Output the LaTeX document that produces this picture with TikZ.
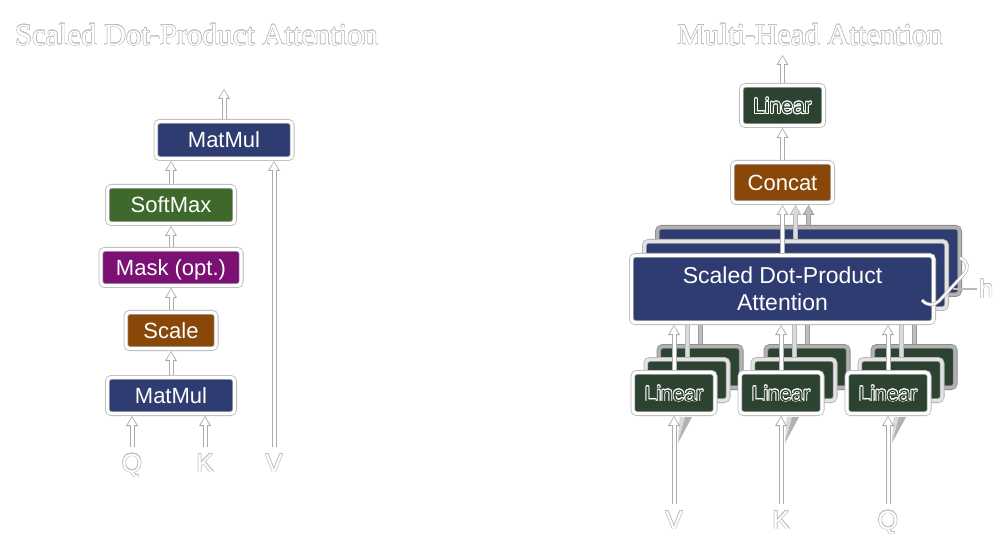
\documentclass[tikz,border=0pt]{standalone}
\usepackage{fontspec}
\setmainfont{Liberation Sans}
\newfontfamily\serifttl{Liberation Serif}
\usepackage{contour}
\usetikzlibrary{arrows.meta}

\definecolor{navybox}{RGB}{46,60,114}
\definecolor{leafbox}{RGB}{62,105,42}
\definecolor{plumbox}{RGB}{122,17,115}
\definecolor{rustbox}{RGB}{137,72,10}
\definecolor{pinebox}{RGB}{45,67,50}

% text drawn as a thin outline
\newcommand\ghost[1]{{\color{white}\contourlength{0.45pt}\contour{gray!50}{#1}}}
\newcommand\lintext{{\color{pinebox}\contourlength{0.8pt}\contour{white}{Linear}}}
\newcommand\boxfont{\fontsize{22pt}{26pt}\selectfont}
\newcommand\linfont{\fontsize{21pt}{25pt}\selectfont}
\newcommand\sdpafont{\fontsize{23pt}{27pt}\selectfont}
\newcommand\ttlfont{\serifttl\fontsize{30.5pt}{32pt}\selectfont}
\newcommand\lblfont{\fontsize{26pt}{28pt}\selectfont}

\pgfdeclarelayer{paper}
\pgfdeclarelayer{stackC}
\pgfdeclarelayer{arrowsC}
\pgfdeclarelayer{stackB}
\pgfdeclarelayer{arrowsB}
\pgfsetlayers{paper,stackC,arrowsC,stackB,arrowsB,main}

\tikzset{
  box/.style={rounded corners=4pt, draw=gray!55, double=white, double distance=3pt,
    line width=0.8pt, inner sep=0pt, outer sep=2.3pt, text=white, font=\boxfont},
  capc/.style={text height=16pt, text depth=0pt},
  stackB/.style={rounded corners=4pt, draw=gray!60, double=gray!22, double distance=3pt,
    line width=0.8pt, inner sep=0pt, outer sep=2.3pt},
  stackC/.style={rounded corners=4pt, draw=gray!90, double=gray!60, double distance=3pt,
    line width=0.8pt, inner sep=0pt, outer sep=2.3pt},
  linsize/.style={minimum width=82.4pt, minimum height=41.4pt},
  sdpasize/.style={minimum width=302.4pt, minimum height=67.4pt},
  blockarrow/.style 2 args={line width=5pt, draw=#1,
    -{Triangle[length=10pt,width=12pt,line width=0pt]},
    postaction={draw=#2, line width=3pt,
      -{Triangle[length=7.6pt,width=8.4pt,line width=0pt]}, shorten >=1.3pt}},
  conn/.style={blockarrow={gray!65}{white}},
  connB/.style={blockarrow={gray!55}{gray!28}},
  connC/.style={blockarrow={gray!78}{gray!52}},
  lbl/.style={inner sep=0pt, outer sep=6pt, anchor=north, text height=19pt,
    text depth=0pt, font=\lblfont},
  braceline/.style={draw=gray!60, double=white, double distance=2pt, line width=0.7pt},
}

\begin{document}
\begin{tikzpicture}[x=1pt,y=-1pt]
\begin{pgfonlayer}{paper}
\fill[white] (0,0) rectangle (1002,548);
\end{pgfonlayer}
\useasboundingbox (0,0) rectangle (1002,548);

% ---------------- titles
\node[font=\ttlfont] (ttlL) at (196.5,35) {\ghost{Scaled Dot-Product Attention}};
\node[font=\ttlfont] (ttlR) at (810,35) {\ghost{Multi-Head Attention}};

% ---------------- scaled dot-product attention
\node[box, capc, fill=navybox, minimum width=136.4pt, minimum height=37.4pt] (mmB) at (224,140) {MatMul};
\node[box, capc, fill=leafbox, minimum width=127.4pt, minimum height=37.4pt] (soft) at (171,205) {SoftMax};
\node[box, capc, fill=plumbox, minimum width=140.4pt, minimum height=36.4pt] (mask) at (171,267.5) {Mask (opt.)};
\node[box, capc, fill=rustbox, minimum width=90.4pt, minimum height=36.4pt] (scale) at (171,330.5) {Scale};
\node[box, capc, fill=navybox, minimum width=127.4pt, minimum height=36.4pt] (mmA) at (171,395.5) {MatMul};

\node[lbl] (q) at (132,447) {\ghost{Q}};
\node[lbl] (k) at (205,447) {\ghost{K}};
\node[lbl] (v) at (274,447) {\ghost{V}};

\coordinate (topL) at (224,89);
\draw[conn] (mmB.north) -- (topL);
\draw[conn] (soft.north) -- (soft.north |- mmB.south);
\draw[conn] (mask.north) -- (mask.north |- soft.south);
\draw[conn] (scale.north) -- (scale.north |- mask.south);
\draw[conn] (mmA.north) -- (mmA.north |- scale.south);
\draw[conn] (q.north) -- (q.north |- mmA.south);
\draw[conn] (k.north) -- (k.north |- mmA.south);
\draw[conn] (v.north) -- (v.north |- mmB.south);

% ---------------- multi-head attention: front layer
\node[box, capc, fill=pinebox, font=\linfont, minimum width=82.4pt, minimum height=40.4pt] (linO) at (782.5,105.5) {\lintext};
\node[box, capc, fill=rustbox, minimum width=100.4pt, minimum height=40.4pt] (cat) at (782.5,182.5) {Concat};
\node[box, sdpasize, fill=navybox, align=center, font=\sdpafont] (sdpa) at (782.5,289) {Scaled Dot-Product\\Attention};
\node[box, capc, linsize, fill=pinebox, font=\linfont] (linV) at (674,393) {\lintext};
\node[box, capc, linsize, fill=pinebox, font=\linfont] (linK) at (781,393) {\lintext};
\node[box, capc, linsize, fill=pinebox, font=\linfont] (linQ) at (888,393) {\lintext};

% ---------------- third layer (furthest back)
\begin{pgfonlayer}{stackC}
\node[stackC, sdpasize, fill=navybox] (sdpaC) at (808.5,261) {};
\node[stackC, linsize, fill=pinebox] (linVC) at (700,367) {};
\node[stackC, linsize, fill=pinebox] (linKC) at (807,367) {};
\node[stackC, linsize, fill=pinebox] (linQC) at (914,367) {};
\end{pgfonlayer}
\begin{pgfonlayer}{arrowsC}
\draw[connC] (sdpaC.north) -- (sdpaC.north |- cat.south);
\draw[connC] (linVC.north) -- (linVC.north |- sdpaC.south);
\draw[connC] (linKC.north) -- (linKC.north |- sdpaC.south);
\draw[connC] (linQC.north) -- (linQC.north |- sdpaC.south);
\end{pgfonlayer}

% ---------------- second layer
\begin{pgfonlayer}{stackB}
\node[stackB, sdpasize, fill=navybox] (sdpaB) at (795.5,275) {};
\node[stackB, linsize, fill=pinebox] (linVB) at (687,380) {};
\node[stackB, linsize, fill=pinebox] (linKB) at (794,380) {};
\node[stackB, linsize, fill=pinebox] (linQB) at (901,380) {};
\end{pgfonlayer}
\begin{pgfonlayer}{arrowsB}
\draw[connB] (sdpaB.north) -- (sdpaB.north |- cat.south);
\draw[connB] (linVB.north) -- (linVB.north |- sdpaB.south);
\draw[connB] (linKB.north) -- (linKB.north |- sdpaB.south);
\draw[connB] (linQB.north) -- (linQB.north |- sdpaB.south);
\end{pgfonlayer}

% slanted input arrows of the back layers, seen from below
\foreach \x in {674,781,888} {
  \fill[gray!60] (\x+6,417) -- (\x+18,417) -- (\x+4,443) -- cycle;
  \fill[gray!30] (\x+6,417) -- (\x+11,417) -- (\x+4,443) -- cycle;
}

% inputs
\node[lbl] (vR) at (674,504) {\ghost{V}};
\node[lbl] (kR) at (781,504) {\ghost{K}};
\node[lbl] (qR) at (888,504) {\ghost{Q}};

\draw[conn] (vR.north) -- (vR.north |- linV.south);
\draw[conn] (kR.north) -- (kR.north |- linK.south);
\draw[conn] (qR.north) -- (qR.north |- linQ.south);
\draw[conn] (linV.north) -- (linV.north |- sdpa.south);
\draw[conn] (linK.north) -- (linK.north |- sdpa.south);
\draw[conn] (linQ.north) -- (linQ.north |- sdpa.south);
\draw[conn] (sdpa.north) -- (sdpa.north |- cat.south);
\draw[conn] (cat.north) -- (cat.north |- linO.south);
\coordinate (topR) at (782.5,55);
\draw[conn] (linO.north) -- (topR);

% brace over the h stacked heads
\draw[braceline] (960,258) .. controls (968,262) and (969,268) .. (964,274)
  -- (939,301) .. controls (934,306) and (927,306) .. (922,300);
\node[inner sep=0pt, outer sep=2pt, anchor=west, font=\lblfont] (hh) at (977,289) {\ghost{h}};
\coordinate (hstem) at (953,289);
\draw[gray!55, line width=1.3pt] (hstem) -- (hh.west);
\end{tikzpicture}
\end{document}
